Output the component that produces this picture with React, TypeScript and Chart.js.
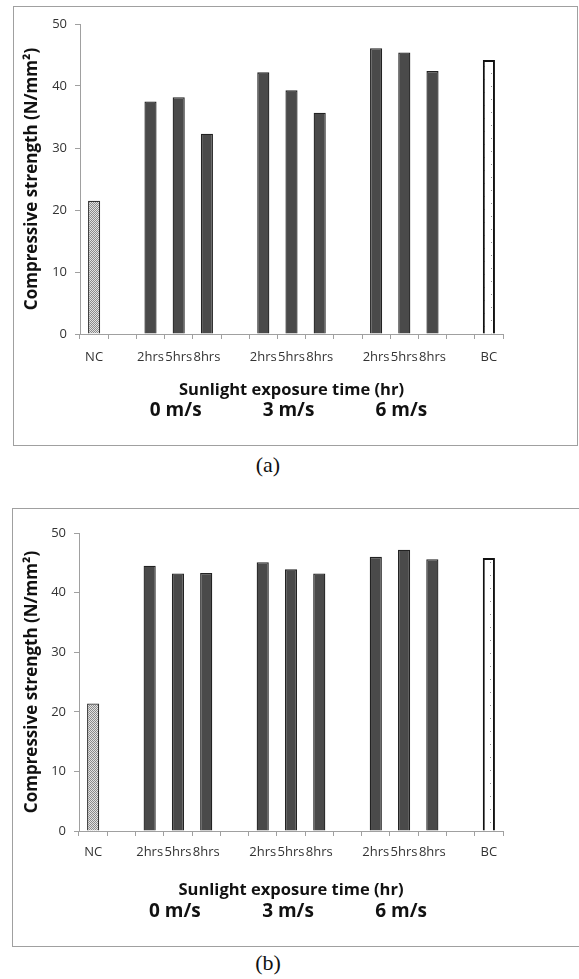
import React, { useEffect, useRef } from 'react';
import { Chart, registerables } from 'chart.js';
Chart.register(...registerables);

const categories = ['NC', '', '2hrs', '5hrs', '8hrs', '', '2hrs', '5hrs', '8hrs', '', '2hrs', '5hrs', '8hrs', '', 'BC'];
const valuesA = [21.5, null, 37.5, 38.2, 32.3, null, 42.2, 39.3, 35.7, null, 46.1, 45.4, 42.4, null, 44.2];
const valuesB = [21.4, null, 44.5, 43.2, 43.3, null, 45.1, 43.9, 43.2, null, 46.0, 47.2, 45.6, null, 45.8];
const yTicks = [0, 10, 20, 30, 40, 50];
const speedLabels = ['0 m/s', '3 m/s', '6 m/s'];
const speedCenters = [3, 7, 11];
const yTitle = 'Compressive strength (N/mm²)';
const xTitle = 'Sunlight exposure time (hr)';
const captions = ['(a)', '(b)'];

const FONT = '"Open Sans", "DejaVu Sans", sans-serif';

function makeNCPattern(ctx: CanvasRenderingContext2D) {
  const c = document.createElement('canvas');
  c.width = 2; c.height = 2;
  const g = c.getContext('2d')!;
  g.fillStyle = '#e2e2e2'; g.fillRect(0, 0, 2, 2);
  g.fillStyle = '#8a8a8a'; g.fillRect(0, 0, 1, 1); g.fillRect(1, 1, 1, 1);
  return ctx.createPattern(c, 'repeat')!;
}

function makeBCPattern(ctx: CanvasRenderingContext2D) {
  const c = document.createElement('canvas');
  c.width = 14; c.height = 13;
  const g = c.getContext('2d')!;
  g.fillStyle = '#ffffff'; g.fillRect(0, 0, 14, 13);
  g.fillStyle = '#8c8c8c';
  g.fillRect(1, 1, 1, 1);
  g.fillRect(8, 7, 1, 1);
  return ctx.createPattern(c, 'repeat')!;
}

type PanelProps = {
  values: (number | null)[];
  left: number; top: number; width: number; height: number;
  padTop: number; padRight: number; yAxisWidth: number; xAxisHeight: number;
  tickPad: number; yTitlePad: number; xTitlePad: number;
};

function Panel(p: PanelProps) {
  const ref = useRef<HTMLCanvasElement>(null);
  useEffect(() => {
    const canvas = ref.current!;
    const ctx = canvas.getContext('2d')!;
    const nc = makeNCPattern(ctx);
    const bc = makeBCPattern(ctx);
    const bg = categories.map((c) => (c === 'NC' ? nc : c === 'BC' ? bc : '#4a4a4a'));
    const bd = categories.map((c) => (c === 'NC' ? '#333333' : c === 'BC' ? '#111111' : '#222222'));
    const bw = categories.map((c) => (c === 'BC' ? 2 : 1.3));
    const speedPlugin = {
      id: 'speedLabels',
      afterDraw(chart: any) {
        const c = chart.ctx;
        const xs = chart.scales.x;
        c.save();
        c.font = `bold 19px ${FONT}`;
        c.fillStyle = '#111111';
        c.textAlign = 'center';
        c.textBaseline = 'middle';
        speedLabels.forEach((t, i) => {
          c.fillText(t, xs.getPixelForValue(speedCenters[i]) - 3, chart.height - 34);
        });
        c.restore();
      },
    };
    const chart = new Chart(canvas, {
      type: 'bar',
      data: {
        labels: categories,
        datasets: [
          {
            data: p.values,
            backgroundColor: bg,
            borderColor: bd,
            borderWidth: bw,
            categoryPercentage: 1,
            barPercentage: 0.43,
          },
        ],
      },
      options: {
        animation: false,
        responsive: false,
        events: [],
        layout: { padding: { top: p.padTop, right: p.padRight, left: 0, bottom: 0 } },
        plugins: { legend: { display: false }, tooltip: { enabled: false } },
        scales: {
          x: {
            grid: { display: true, drawOnChartArea: false, drawTicks: true, tickLength: 5, color: '#a0a0a0', offset: true },
            border: { display: true, color: '#a0a0a0', width: 1 },
            ticks: {
              autoSkip: false, maxRotation: 0, minRotation: 0, padding: p.tickPad,
              color: '#333333', font: { family: FONT, size: 13 },
            },
            title: {
              display: true, text: xTitle, color: '#111111',
              font: { family: FONT, size: 16.5, weight: 'bold' },
              padding: { top: 0, bottom: p.xTitlePad },
            },
            afterFit: (s: any) => { s.height = p.xAxisHeight; },
          },
          y: {
            min: yTicks[0], max: yTicks[yTicks.length - 1],
            grid: { display: true, drawOnChartArea: false, drawTicks: true, tickLength: 5, color: '#a0a0a0' },
            border: { display: true, color: '#a0a0a0', width: 1 },
            ticks: {
              stepSize: yTicks[1] - yTicks[0], padding: 8,
              color: '#333333', font: { family: FONT, size: 13 },
            },
            title: {
              display: true, text: yTitle, color: '#111111',
              font: { family: FONT, size: 17, weight: 'bold' },
              padding: { top: p.yTitlePad, bottom: 0 },
            },
            afterFit: (s: any) => { s.width = p.yAxisWidth; },
          },
        },
      },
      plugins: [speedPlugin],
    } as any);
    return () => chart.destroy();
  }, []);
  return (
    <canvas
      ref={ref}
      width={p.width}
      height={p.height}
      style={{ position: 'absolute', left: p.left, top: p.top, width: p.width, height: p.height }}
    />
  );
}

export default function App() {
  const boxStyle = (l: number, t: number, w: number, h: number): React.CSSProperties => ({
    position: 'absolute', left: l, top: t, width: w, height: h,
    border: '1.5px solid #a0a0a0', boxSizing: 'border-box',
  });
  const capStyle = (t: number): React.CSSProperties => ({
    position: 'absolute', left: 218, top: t, width: 100, textAlign: 'center',
    fontFamily: '"Liberation Serif", "Times New Roman", serif', fontSize: 22, lineHeight: '26px', color: '#111',
  });
  return (
    <div style={{ position: 'fixed', left: 0, top: 0, width: 579, height: 979, overflow: 'hidden', background: '#fff' }}>
      <div style={boxStyle(13, 6, 565, 440)} />
      <Panel values={valuesA} left={14} top={7} width={563} height={438}
        padTop={17} padRight={74} yAxisWidth={66} xAxisHeight={111}
        tickPad={10} yTitlePad={8} xTitlePad={45} />
      <div style={capStyle(452)}>{captions[0]}</div>

      <div style={boxStyle(12, 508, 590, 439)} />
      <Panel values={valuesB} left={13} top={509} width={563} height={437}
        padTop={24} padRight={73} yAxisWidth={66} xAxisHeight={115}
        tickPad={8} yTitlePad={9} xTitlePad={46} />
      <div style={capStyle(950)}>{captions[1]}</div>
    </div>
  );
}
